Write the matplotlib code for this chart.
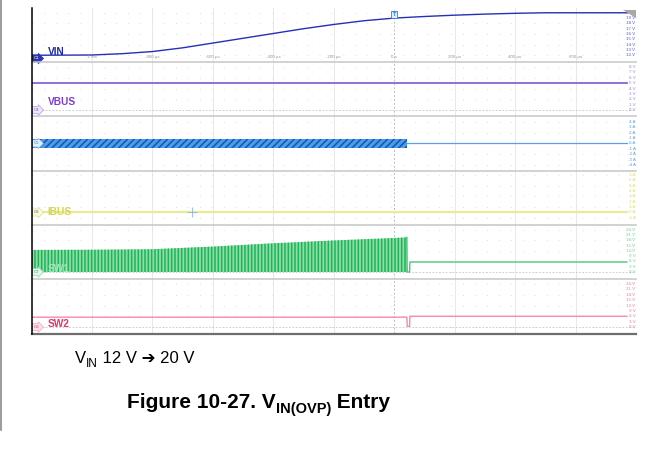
import numpy as np
import matplotlib.pyplot as plt
from matplotlib.lines import Line2D
from matplotlib.patches import Polygon
from matplotlib.transforms import blended_transform_factory as blend

plt.rcParams['font.family'] = ['Liberation Sans', 'DejaVu Sans']
plt.rcParams['hatch.linewidth'] = 1.1

W, H = 663, 455

# scope time axis (ms), 200 us / div
t_lo, t_hi = -1.2, 0.8
t_end = 0.77
t_stop = 0.042          # switching stops here
cursor_t = -0.67

grid_t = [-1.0, -0.8, -0.6, -0.4, -0.2, 0.0, 0.2, 0.4, 0.6]
time_labels = ['-1 ms', '-800 µs', '-600 µs', '-400 µs', '-200 µs', '0 s', '200 µs', '400 µs', '600 µs']

# C1 VIN (V)
vin_t = [-1.2, -1.0, -0.9, -0.8, -0.7, -0.6, -0.5, -0.4, -0.3, -0.2, -0.1, 0.0, 0.1, 0.2, 0.3, 0.4, 0.5, 0.6, 0.77]
vin_v = [12.0, 12.05, 12.3, 12.7, 13.4, 14.3, 15.2, 16.1, 17.0, 17.8, 18.5, 19.0, 19.3, 19.55, 19.75, 19.9, 20.0, 20.0, 20.0]

# C4 VBUS (V)
vbus_t = [-1.2, 0.77]
vbus_v = [5.0, 5.0]

# C5 inductor current band (A)
il_t = [-1.2, t_stop]
il_hi = [0.9, 0.9]
il_lo = [-0.8, -0.8]
il_off_t = [t_stop, 0.77]
il_off_v = [0.0, 0.0]

# C6 IBUS (A)
ibus_t = [-1.2, 0.77]
ibus_v = [0.0, 0.0]

# C7 SW1 (V): top of switching pulses, then after stop
sw1_t = [-1.2, -1.0, -0.8, -0.6, -0.4, -0.2, 0.0, t_stop]
sw1_hi = [12.6, 12.7, 13.0, 14.5, 16.4, 18.0, 19.4, 19.8]
sw1_off_t = [t_stop, 0.043, 0.051, 0.052, 0.77]
sw1_off_v = [19.8, 0.0, 0.0, 5.7, 5.7]

# C8 SW2 (V)
sw2_t = [-1.2, 0.042, 0.043, 0.051, 0.052, 0.77]
sw2_v = [5.5, 5.5, 0.4, 0.4, 6.0, 6.0]

# right-hand scale labels
vin_ticks = [20, 19, 18, 17, 16, 15, 14, 13, 12]
vbus_ticks = [8, 7, 6, 5, 4, 3, 2, 1, 0]
il_ticks = [4, 3, 2, 1, 0, -1, -2, -3, -4]
ibus_ticks = [7, 6, 5, 4, 3, 2, 1, 0, -1]
sw_ticks = [24, 21, 18, 15, 12, 9, 6, 3, 0]

fig = plt.figure(figsize=(W / 100, H / 100), dpi=100)
fig.patch.set_facecolor('white')

x0_px, x1_px = 31.5, 636.0
top_px, ph = 8.0, 54.17


def panel(i, ylim):
    top = top_px + i * ph
    ax = fig.add_axes([x0_px / W, 1 - (top + ph) / H, (x1_px - x0_px) / W, ph / H])
    ax.set_xlim(t_lo, t_hi)
    ax.set_ylim(*ylim)
    ax.set_axis_off()
    for t in grid_t:
        if t == 0.0:
            ax.axvline(t, color='#bdbdbd', lw=0.7, ls=(0, (2, 2)), zorder=0)
        else:
            ax.axvline(t, color='#e8e8e8', lw=0.7, zorder=0)
    return ax


def scale(ax, ticks, unit, color):
    tr = blend(ax.transAxes, ax.transData)
    for k, v in enumerate(ticks):
        if k % 2 == 0:
            ax.axhline(v, color='#dedede', lw=0.7, ls=(0, (1, 11.3)), zorder=0)
        ax.text(0.999, v, f'{v} {unit}', transform=tr, ha='right', va='center',
                fontsize=3.2, color=color, zorder=6)


def tag(ax, y, txt, fc, ec, tc, frac=False):
    tr = ax.transAxes if frac else blend(ax.transAxes, ax.transData)
    ax.text(0.004, y, txt, transform=tr, ha='left', va='center', fontsize=3.2,
            color=tc, zorder=7,
            bbox=dict(boxstyle='rarrow,pad=0.35', fc=fc, ec=ec, lw=0.5))


def name(ax, yfrac, txt, color):
    ax.text(0.027, yfrac, txt, transform=ax.transAxes, ha='left', va='center',
            fontsize=7.3, fontweight='bold', color=color, zorder=7)


# VIN
ax1 = panel(0, (10.7, 20.9))
scale(ax1, vin_ticks, 'V', '#4a55dd')
ax1.plot(vin_t, vin_v, color='#2430b8', lw=1.0, zorder=3)
for t, s in zip(grid_t, time_labels):
    ax1.text(t, 0.09, s, transform=blend(ax1.transData, ax1.transAxes),
             ha='center', va='center', fontsize=3.2, color='#9a9a9a', zorder=4)
name(ax1, 0.18, 'VIN', '#1c2aa8')
tag(ax1, 0.068, 'C1', '#2a36b0', '#2a36b0', 'white', frac=True)
ax1.text(0.0, 0.88, 'T', transform=blend(ax1.transData, ax1.transAxes), ha='center',
         va='center', fontsize=4, color='#2f7fd8', fontweight='bold', zorder=7,
         bbox=dict(boxstyle='square,pad=0.25', fc='#dcecff', ec='#2f7fd8', lw=0.6))

# VBUS
ax2 = panel(1, (-1.17, 8.9))
scale(ax2, vbus_ticks, 'V', '#a783e6')
ax2.axhline(0, color='#c4c4c4', lw=0.6, ls=(0, (2, 2)), zorder=1)
ax2.plot(vbus_t, vbus_v, color='#8c62d8', lw=1.3, zorder=3)
name(ax2, 0.264, 'VBUS', '#7a3fd0')
tag(ax2, 0, 'C4', '#eee6fb', '#b79be8', '#7a5cc0')

# inductor current
ax3 = panel(2, (-5.0, 5.0))
scale(ax3, il_ticks, 'A', '#5aa0e8')
ax3.fill_between(il_t, il_lo, il_hi, facecolor='#4f9be6', edgecolor='#0d56bb',
                 hatch='/////', lw=0, zorder=3)
ax3.plot(il_off_t, il_off_v, color='#5b9fe6', lw=0.9, zorder=3)
tag(ax3, 0, 'C5', '#e3f0fc', '#8cbcec', '#3a7cc8')

# IBUS
ax4 = panel(3, (-2.26, 7.78))
scale(ax4, ibus_ticks, 'A', '#dede6a')
ax4.plot(ibus_t, ibus_v, color='#ebeb94', lw=1.6, zorder=3)
ax4.plot([cursor_t], [0], marker='+', ms=7, mew=0.6, color='#8bb6e6', zorder=4)
name(ax4, 0.234, 'IBUS', '#d6d64a')
tag(ax4, 0, 'C6', '#fbfbe3', '#dcdc8a', '#555555')

# SW1
ax5 = panel(4, (-3.9, 27.0))
scale(ax5, sw_ticks, 'V', '#6dd08f')
ax5.axhline(0, color='#c8c8c8', lw=0.6, ls=(0, (2, 2)), zorder=1)
ax5.fill_between(sw1_t, 0, sw1_hi, facecolor='#8fdcab', edgecolor='#1db556',
                 hatch='|||||', lw=0, zorder=3)
ax5.plot(sw1_off_t, sw1_off_v, color='#3cc06c', lw=0.9, zorder=3)
name(ax5, 0.19, 'SW1', '#a8e2bd')
tag(ax5, 0, 'C7', '#e3f6ea', '#8fd8a8', '#3a9a5c')

# SW2
ax6 = panel(5, (-3.35, 26.9))
scale(ax6, sw_ticks, 'V', '#f07aa0')
ax6.axhline(0, color='#c8c8c8', lw=0.6, ls=(0, (2, 2)), zorder=1)
ax6.plot(sw2_t, sw2_v, color='#f48aaa', lw=1.0, zorder=3)
name(ax6, 0.166, 'SW2', '#e8336e')
tag(ax6, 0, 'C8', '#fde3ec', '#f2a0ba', '#d0406e')

# screen frame
for i in range(1, 6):
    y = 1 - (top_px + i * ph) / H
    fig.add_artist(Line2D([x0_px / W, x1_px / W], [y, y], color='#c6c6c6', lw=1.1))
fig.add_artist(Line2D([x0_px / W, x1_px / W], [1 - 333.5 / H] * 2, color='#6e6e6e', lw=1.6))
fig.add_artist(Line2D([x0_px / W] * 2, [1 - 8 / H, 1 - 334 / H], color='black', lw=1.1))
fig.add_artist(Line2D([1 / W] * 2, [1 - 430 / H, 1], color='#8a8a8a', lw=1.2))
fig.add_artist(Polygon([[623 / W, 1 - 10 / H], [636 / W, 1 - 10 / H], [636 / W, 1 - 18 / H]],
                       closed=True, transform=fig.transFigure, fc='#a8a8a8', ec='none'))

# captions written piece by piece so the subscripts keep the same font
renderer = fig.canvas.get_renderer()


def run(pieces, x_px, base_px):
    x = x_px / W
    for s, size, drop, weight in pieces:
        t = fig.text(x, 1 - (base_px + drop) / H, s, fontsize=size, fontweight=weight,
                     ha='left', va='baseline', color='black')
        bb = t.get_window_extent(renderer)
        x = bb.x1 / W


run([('V', 12, 0, 'normal'), ('IN', 8.5, 4, 'normal'), (' 12 V ➔ 20 V', 12, 0, 'normal')], 75, 363)
run([('Figure 10-27. V', 15, 0, 'bold'), ('IN(OVP)', 10.5, 5, 'bold'), (' Entry', 15, 0, 'bold')], 127, 408)

fig.savefig('out.png', dpi=100)
